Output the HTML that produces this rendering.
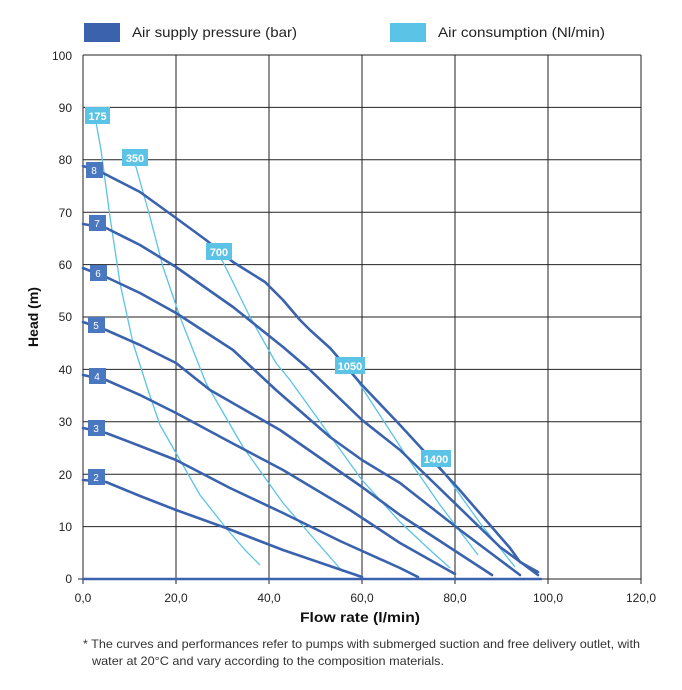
<!DOCTYPE html><html><head><style>body{margin:0;background:#fff}svg text{font-family:"Liberation Sans",sans-serif}</style></head><body>
<svg width="682" height="685" viewBox="0 0 682 685">
<rect x="84" y="23" width="36" height="19" fill="#3a62ad"/>
<text x="132" y="37" font-size="14" fill="#222" textLength="165" lengthAdjust="spacingAndGlyphs">Air supply pressure (bar)</text>
<rect x="390" y="23" width="36" height="19" fill="#5bc3e6"/>
<text x="438" y="37" font-size="14" fill="#222" textLength="167" lengthAdjust="spacingAndGlyphs">Air consumption (Nl/min)</text>
<g stroke="#222" stroke-width="1">
<line x1="83" y1="55" x2="641" y2="55"/><line x1="83" y1="107.4" x2="641" y2="107.4"/><line x1="83" y1="159.8" x2="641" y2="159.8"/><line x1="83" y1="212.2" x2="641" y2="212.2"/><line x1="83" y1="264.6" x2="641" y2="264.6"/><line x1="83" y1="317" x2="641" y2="317"/><line x1="83" y1="369.4" x2="641" y2="369.4"/><line x1="83" y1="421.8" x2="641" y2="421.8"/><line x1="83" y1="474.2" x2="641" y2="474.2"/><line x1="83" y1="526.6" x2="641" y2="526.6"/><line x1="78" y1="579" x2="641" y2="579"/>
<line x1="83" y1="55" x2="83" y2="584"/><line x1="176" y1="55" x2="176" y2="584"/><line x1="269" y1="55" x2="269" y2="584"/><line x1="362" y1="55" x2="362" y2="584"/><line x1="455" y1="55" x2="455" y2="584"/><line x1="548" y1="55" x2="548" y2="584"/><line x1="641" y1="55" x2="641" y2="584"/>
</g>
<g font-size="12" fill="#222" text-anchor="end">
<text x="72" y="60">100</text><text x="72" y="112">90</text><text x="72" y="164">80</text><text x="72" y="217">70</text><text x="72" y="269">60</text><text x="72" y="321">50</text><text x="72" y="374">40</text><text x="72" y="426">30</text><text x="72" y="479">20</text><text x="72" y="531">10</text><text x="72" y="583">0</text>
</g>
<g font-size="12" fill="#222" text-anchor="middle">
<text x="83" y="602">0,0</text><text x="176" y="602">20,0</text><text x="269" y="602">40,0</text><text x="362" y="602">60,0</text><text x="455" y="602">80,0</text><text x="548" y="602">100,0</text><text x="641" y="602">120,0</text>
</g>
<text x="300" y="622" font-size="14" font-weight="bold" fill="#111" textLength="120" lengthAdjust="spacingAndGlyphs">Flow rate (l/min)</text>
<text transform="translate(38,317) rotate(-90)" font-size="14" font-weight="bold" text-anchor="middle" fill="#111">Head (m)</text>
<g fill="none" stroke="#5bc3e6" stroke-width="1.3" stroke-linejoin="round">
<polyline points="96,122 101,150 110,217 120,283 133,343 148,390 160,425 176,453 200,495 226,528 245,550 260,565"/>
<polyline points="134,162 136,167 150,217 163,267 180,317 206,383 243,447 283,503 315,540 343,572"/>
<polyline points="220,258 223,262 250,317 276,363 290,380 362,480 400,522 430,550 450,568"/>
<polyline points="350,370 357,380 407,457 440,505 478,555"/>
<polyline points="436,462 440,467 480,523 515,567"/>
</g>
<g fill="none" stroke="#3a62ad" stroke-width="2.6" stroke-linejoin="round" stroke-linecap="round">
<polyline points="83,166 101,172 140,192 176,218 206,240 233,262 265,282 283,300 300,320 310,330 330,348 362,385 400,425 457,487 510,548 520,562 538,572"/>
<polyline points="83,224 106,228 140,245 176,267 233,307 283,347 310,370 362,420 400,450 500,547 538,575"/>
<polyline points="83,268 108,278 140,293 176,313 233,350 276,390 330,437 362,460 400,483 460,530 520,575"/>
<polyline points="83,322 106,330 140,345 176,363 210,390 280,430 362,487 400,515 492,575"/>
<polyline points="83,375 106,380 140,395 176,413 230,442 283,470 350,510 400,543 455,574"/>
<polyline points="83,428 106,433 140,446 176,460 230,488 283,513 340,541 400,568 418,577"/>
<polyline points="83,480 106,482 140,496 176,510 226,528 283,550 362,577"/>
<polyline points="83,579 541,579"/>
</g>
<g fill="#4a78c0"><rect x="86" y="162" width="17" height="16"/><rect x="89" y="215" width="17" height="16"/><rect x="90" y="265" width="17" height="16"/><rect x="88" y="317" width="17" height="16"/><rect x="89" y="368" width="17" height="16"/><rect x="88" y="420" width="17" height="16"/><rect x="88" y="469" width="17" height="16"/></g>
<g fill="#fff" font-size="10" text-anchor="middle"><text x="94" y="174">8</text><text x="97" y="227">7</text><text x="98" y="277">6</text><text x="96" y="329">5</text><text x="97" y="380">4</text><text x="96" y="432">3</text><text x="96" y="481">2</text></g>
<g fill="#5bc3e6"><rect x="85" y="107" width="25" height="17"/><rect x="122" y="149" width="26" height="17"/><rect x="206" y="243" width="26" height="17"/><rect x="335" y="357" width="30" height="17"/><rect x="421" y="450" width="30" height="17"/></g>
<g fill="#fff" font-size="11" font-weight="bold" text-anchor="middle"><text x="97.5" y="120">175</text><text x="135" y="162">350</text><text x="219" y="256">700</text><text x="350" y="370">1050</text><text x="436" y="463">1400</text></g>
<text x="83" y="648" font-size="12" fill="#333" textLength="557" lengthAdjust="spacingAndGlyphs">* The curves and performances refer to pumps with submerged suction and free delivery outlet, with</text>
<text x="92" y="665" font-size="12" fill="#333" textLength="352" lengthAdjust="spacingAndGlyphs">water at 20°C and vary according to the composition materials.</text>
</svg></body></html>
